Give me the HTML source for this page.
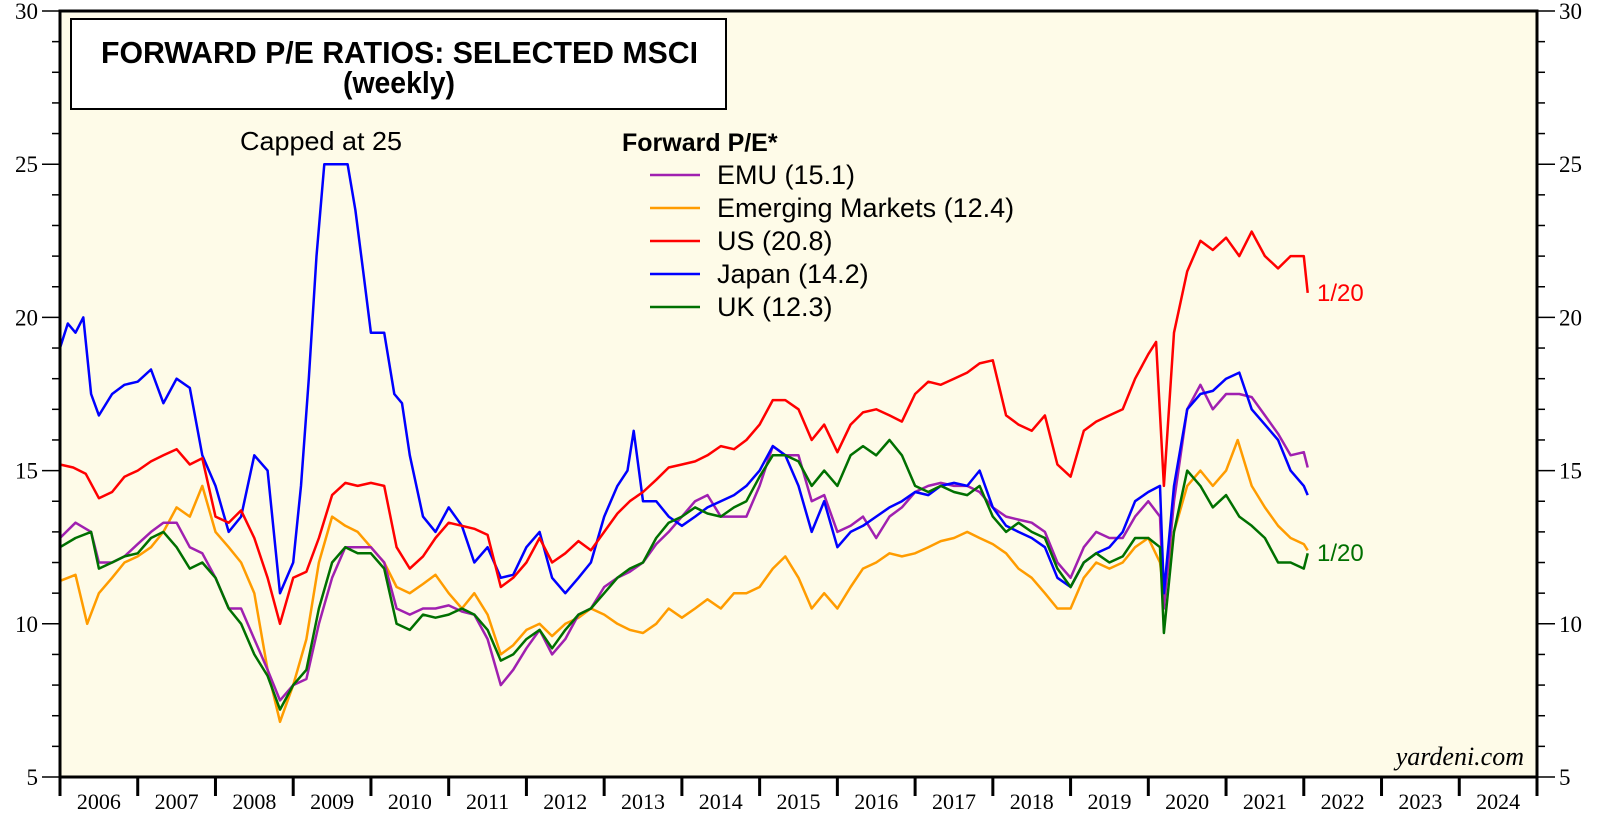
<!DOCTYPE html>
<html><head><meta charset="utf-8"><style>
html,body{margin:0;padding:0;background:#fff;}
svg{display:block;}
</style></head><body>
<svg id="chart" width="1600" height="825" xmlns="http://www.w3.org/2000/svg" font-family="'Liberation Serif', serif">
<rect x="60" y="11" width="1477" height="766" fill="#fefbe8"/>
<g id="marks"></g>
<g id="axes"></g>
<rect x="71" y="19" width="655" height="90" fill="#fff" stroke="#000" stroke-width="2"/>
<text x="101" y="63" textLength="597" lengthAdjust="spacingAndGlyphs" font-family="'Liberation Sans', sans-serif" font-weight="bold" font-size="31">FORWARD P/E RATIOS: SELECTED MSCI</text>
<text x="399" y="93" textLength="112" lengthAdjust="spacingAndGlyphs" text-anchor="middle" font-family="'Liberation Sans', sans-serif" font-weight="bold" font-size="31">(weekly)</text>
<text x="240" y="150" textLength="162" lengthAdjust="spacingAndGlyphs" font-family="'Liberation Sans', sans-serif" font-size="26">Capped at 25</text>
<g id="legend" font-family="'Liberation Sans', sans-serif" font-size="27">
<text x="622" y="151" font-weight="bold" font-size="25">Forward P/E*</text>
</g>
<text x="1317" y="301" fill="#f00" font-family="'Liberation Sans', sans-serif" font-size="24">1/20</text>
<text x="1317" y="561" fill="#007000" font-family="'Liberation Sans', sans-serif" font-size="24">1/20</text>
<text x="1524" y="765" text-anchor="end" font-style="italic" font-size="26">yardeni.com</text>
</svg>
<script>
const years=[2006,2007,2008,2009,2010,2011,2012,2013,2014,2015,2016,2017,2018,2019,2020,2021,2022,2023,2024];
const yTicks=[5,10,15,20,25,30];
const emuDates=[2006.0,2006.2,2006.4,2006.5,2006.67,2006.83,2007.0,2007.17,2007.33,2007.5,2007.67,2007.83,2008.0,2008.17,2008.33,2008.5,2008.67,2008.83,2009.0,2009.17,2009.33,2009.5,2009.67,2009.83,2010.0,2010.17,2010.33,2010.5,2010.67,2010.83,2011.0,2011.17,2011.33,2011.5,2011.67,2011.83,2012.0,2012.17,2012.33,2012.5,2012.67,2012.83,2013.0,2013.17,2013.33,2013.5,2013.67,2013.83,2014.0,2014.17,2014.33,2014.5,2014.67,2014.83,2015.0,2015.17,2015.33,2015.5,2015.67,2015.83,2016.0,2016.17,2016.33,2016.5,2016.67,2016.83,2017.0,2017.17,2017.33,2017.5,2017.67,2017.83,2018.0,2018.17,2018.33,2018.5,2018.67,2018.83,2019.0,2019.17,2019.33,2019.5,2019.67,2019.83,2020.0,2020.15,2020.2,2020.33,2020.5,2020.67,2020.83,2021.0,2021.17,2021.33,2021.5,2021.67,2021.83,2022.0,2022.05];
const emuValues=[12.8,13.3,13.0,12.0,12.0,12.2,12.6,13.0,13.3,13.3,12.5,12.3,11.5,10.5,10.5,9.5,8.5,7.5,8.0,8.2,10.0,11.5,12.5,12.5,12.5,12.0,10.5,10.3,10.5,10.5,10.6,10.4,10.3,9.5,8.0,8.5,9.2,9.8,9.0,9.5,10.3,10.5,11.2,11.5,11.7,12.0,12.6,13.0,13.5,14.0,14.2,13.5,13.5,13.5,14.5,15.8,15.5,15.5,14.0,14.2,13.0,13.2,13.5,12.8,13.5,13.8,14.3,14.5,14.6,14.5,14.5,14.3,13.8,13.5,13.4,13.3,13.0,12.0,11.5,12.5,13.0,12.8,12.8,13.5,14.0,13.5,10.5,14.0,17.0,17.8,17.0,17.5,17.5,17.4,16.8,16.2,15.5,15.6,15.1];
const emDates=[2006.0,2006.2,2006.35,2006.5,2006.67,2006.83,2007.0,2007.17,2007.33,2007.5,2007.67,2007.83,2008.0,2008.17,2008.33,2008.5,2008.67,2008.83,2009.0,2009.17,2009.33,2009.5,2009.67,2009.83,2010.0,2010.17,2010.33,2010.5,2010.67,2010.83,2011.0,2011.17,2011.33,2011.5,2011.67,2011.83,2012.0,2012.17,2012.33,2012.5,2012.67,2012.83,2013.0,2013.17,2013.33,2013.5,2013.67,2013.83,2014.0,2014.17,2014.33,2014.5,2014.67,2014.83,2015.0,2015.17,2015.33,2015.5,2015.67,2015.83,2016.0,2016.17,2016.33,2016.5,2016.67,2016.83,2017.0,2017.17,2017.33,2017.5,2017.67,2017.83,2018.0,2018.17,2018.33,2018.5,2018.67,2018.83,2019.0,2019.17,2019.33,2019.5,2019.67,2019.83,2020.0,2020.15,2020.2,2020.33,2020.5,2020.67,2020.83,2021.0,2021.15,2021.33,2021.5,2021.67,2021.83,2022.0,2022.05];
const emValues=[11.4,11.6,10.0,11.0,11.5,12.0,12.2,12.5,13.0,13.8,13.5,14.5,13.0,12.5,12.0,11.0,8.5,6.8,8.0,9.5,12.0,13.5,13.2,13.0,12.5,12.0,11.2,11.0,11.3,11.6,11.0,10.5,11.0,10.3,9.0,9.3,9.8,10.0,9.6,10.0,10.2,10.5,10.3,10.0,9.8,9.7,10.0,10.5,10.2,10.5,10.8,10.5,11.0,11.0,11.2,11.8,12.2,11.5,10.5,11.0,10.5,11.2,11.8,12.0,12.3,12.2,12.3,12.5,12.7,12.8,13.0,12.8,12.6,12.3,11.8,11.5,11.0,10.5,10.5,11.5,12.0,11.8,12.0,12.5,12.8,12.0,11.0,13.0,14.5,15.0,14.5,15.0,16.0,14.5,13.8,13.2,12.8,12.6,12.4];
const usDates=[2006.0,2006.17,2006.33,2006.5,2006.67,2006.83,2007.0,2007.17,2007.33,2007.5,2007.67,2007.83,2008.0,2008.17,2008.33,2008.5,2008.67,2008.83,2009.0,2009.17,2009.33,2009.5,2009.67,2009.83,2010.0,2010.17,2010.33,2010.5,2010.67,2010.83,2011.0,2011.17,2011.33,2011.5,2011.67,2011.83,2012.0,2012.17,2012.33,2012.5,2012.67,2012.83,2013.0,2013.17,2013.33,2013.5,2013.67,2013.83,2014.0,2014.17,2014.33,2014.5,2014.67,2014.83,2015.0,2015.17,2015.33,2015.5,2015.67,2015.83,2016.0,2016.17,2016.33,2016.5,2016.67,2016.83,2017.0,2017.17,2017.33,2017.5,2017.67,2017.83,2018.0,2018.17,2018.33,2018.5,2018.67,2018.83,2019.0,2019.17,2019.33,2019.5,2019.67,2019.83,2020.0,2020.1,2020.2,2020.33,2020.5,2020.67,2020.83,2021.0,2021.17,2021.33,2021.5,2021.67,2021.83,2022.0,2022.05];
const usValues=[15.2,15.1,14.9,14.1,14.3,14.8,15.0,15.3,15.5,15.7,15.2,15.4,13.5,13.3,13.7,12.8,11.5,10.0,11.5,11.7,12.8,14.2,14.6,14.5,14.6,14.5,12.5,11.8,12.2,12.8,13.3,13.2,13.1,12.9,11.2,11.5,12.0,12.8,12.0,12.3,12.7,12.4,13.0,13.6,14.0,14.3,14.7,15.1,15.2,15.3,15.5,15.8,15.7,16.0,16.5,17.3,17.3,17.0,16.0,16.5,15.6,16.5,16.9,17.0,16.8,16.6,17.5,17.9,17.8,18.0,18.2,18.5,18.6,16.8,16.5,16.3,16.8,15.2,14.8,16.3,16.6,16.8,17.0,18.0,18.8,19.2,14.5,19.5,21.5,22.5,22.2,22.6,22.0,22.8,22.0,21.6,22.0,22.0,20.8];
const japanDates=[2006.0,2006.1,2006.2,2006.3,2006.4,2006.5,2006.67,2006.83,2007.0,2007.17,2007.33,2007.5,2007.67,2007.83,2008.0,2008.17,2008.33,2008.5,2008.67,2008.83,2009.0,2009.1,2009.2,2009.3,2009.4,2009.6,2009.7,2009.8,2009.9,2010.0,2010.17,2010.3,2010.4,2010.5,2010.67,2010.83,2011.0,2011.17,2011.33,2011.5,2011.67,2011.83,2012.0,2012.17,2012.33,2012.5,2012.67,2012.83,2013.0,2013.17,2013.3,2013.38,2013.5,2013.67,2013.83,2014.0,2014.17,2014.33,2014.5,2014.67,2014.83,2015.0,2015.17,2015.33,2015.5,2015.67,2015.83,2016.0,2016.17,2016.33,2016.5,2016.67,2016.83,2017.0,2017.17,2017.33,2017.5,2017.67,2017.83,2018.0,2018.17,2018.33,2018.5,2018.67,2018.83,2019.0,2019.17,2019.33,2019.5,2019.67,2019.83,2020.0,2020.15,2020.2,2020.33,2020.5,2020.67,2020.83,2021.0,2021.17,2021.33,2021.5,2021.67,2021.83,2022.0,2022.05];
const japanValues=[19.0,19.8,19.5,20.0,17.5,16.8,17.5,17.8,17.9,18.3,17.2,18.0,17.7,15.5,14.5,13.0,13.5,15.5,15.0,11.0,12.0,14.5,18.0,22.0,25,25,25,23.5,21.5,19.5,19.5,17.5,17.2,15.5,13.5,13.0,13.8,13.2,12.0,12.5,11.5,11.6,12.5,13.0,11.5,11.0,11.5,12.0,13.5,14.5,15.0,16.3,14.0,14.0,13.5,13.2,13.5,13.8,14.0,14.2,14.5,15.0,15.8,15.5,14.5,13.0,14.0,12.5,13.0,13.2,13.5,13.8,14.0,14.3,14.2,14.5,14.6,14.5,15.0,13.8,13.2,13.0,12.8,12.5,11.5,11.2,12.0,12.3,12.5,13.0,14.0,14.3,14.5,11.0,14.5,17.0,17.5,17.6,18.0,18.2,17.0,16.5,16.0,15.0,14.5,14.2];
const ukDates=emuDates;
const ukValues=[12.5,12.8,13.0,11.8,12.0,12.2,12.3,12.8,13.0,12.5,11.8,12.0,11.5,10.5,10.0,9.0,8.3,7.2,8.0,8.5,10.5,12.0,12.5,12.3,12.3,11.8,10.0,9.8,10.3,10.2,10.3,10.5,10.3,9.8,8.8,9.0,9.5,9.8,9.2,9.8,10.3,10.5,11.0,11.5,11.8,12.0,12.8,13.3,13.5,13.8,13.6,13.5,13.8,14.0,14.8,15.5,15.5,15.3,14.5,15.0,14.5,15.5,15.8,15.5,16.0,15.5,14.5,14.3,14.5,14.3,14.2,14.5,13.5,13.0,13.3,13.0,12.8,11.8,11.2,12.0,12.3,12.0,12.2,12.8,12.8,12.5,9.7,13.0,15.0,14.5,13.8,14.2,13.5,13.2,12.8,12.0,12.0,11.8,12.3];
const seriesNames=["EMU (15.1)","Emerging Markets (12.4)","US (20.8)","Japan (14.2)","UK (12.3)"];

const NS="http://www.w3.org/2000/svg";
const X0=60,X1=1537,Y0=777,Y1=11,T0=2006,T1=2025,V0=5,V1=30;
function xs(t){return X0+(t-T0)/(T1-T0)*(X1-X0);}
function ys(v){return Y0-(v-V0)/(V1-V0)*(Y0-Y1);}
function mk(tag,attrs,parent){const e=document.createElementNS(NS,tag);for(const k in attrs)e.setAttribute(k,attrs[k]);parent.appendChild(e);return e;}
const marks=document.getElementById('marks'),axes=document.getElementById('axes'),legend=document.getElementById('legend');
const series=[
 {n:'emu-line',d:emuDates,v:emuValues,c:'#a020b0'},
 {n:'emerging-markets-line',d:emDates,v:emValues,c:'#ff9c00'},
 {n:'us-line',d:usDates,v:usValues,c:'#ff0000'},
 {n:'japan-line',d:japanDates,v:japanValues,c:'#0000ff'},
 {n:'uk-line',d:ukDates,v:ukValues,c:'#007000'}];
const order=[1,0,3,2,4];
order.forEach(i=>{const s=series[i];
 const p=mk('polyline',{points:s.d.map((t,j)=>xs(t).toFixed(1)+','+ys(s.v[j]).toFixed(1)).join(' '),fill:'none',stroke:s.c,'stroke-width':2.5,'stroke-linejoin':'round'},marks);
 
 
});
series.forEach((s,i)=>{const y=175+i*33;
 const l=mk('line',{x1:650,x2:700,y1:y,y2:y,stroke:s.c,'stroke-width':2.5},legend);
 
 
 const t=mk('text',{x:717,y:y+9},legend);t.textContent=seriesNames[i];
 
 
});
const fr=mk('rect',{x:X0,y:Y1,width:X1-X0,height:Y0-Y1,fill:'none',stroke:'#000','stroke-width':3},axes);


for(let v=V0;v<=V1;v++){const y=ys(v);const big=v%5===0;
 mk('line',{x1:X0-(big?18:8),x2:X0,y1:y,y2:y,stroke:'#000','stroke-width':1.5},axes);
 mk('line',{x1:X1,x2:X1+(big?18:8),y1:y,y2:y,stroke:'#000','stroke-width':1.5},axes);}
yTicks.forEach(v=>{const y=ys(v);
 const a=mk('text',{x:X0-22,y:y+8,'text-anchor':'end','font-size':23},axes);a.textContent=v;
 
 
 const b=mk('text',{x:X1+22,y:y+8,'font-size':23},axes);b.textContent=v;
 
 });
for(let t=T0;t<=T1;t++){mk('line',{x1:xs(t),x2:xs(t),y1:Y0,y2:Y0+19,stroke:'#000','stroke-width':3},axes);}
years.forEach(yr=>{const t=mk('text',{x:xs(yr+0.5),y:Y0+32,'text-anchor':'middle','font-size':22},axes);t.textContent=yr;
 
 });
</script>
</body></html>
